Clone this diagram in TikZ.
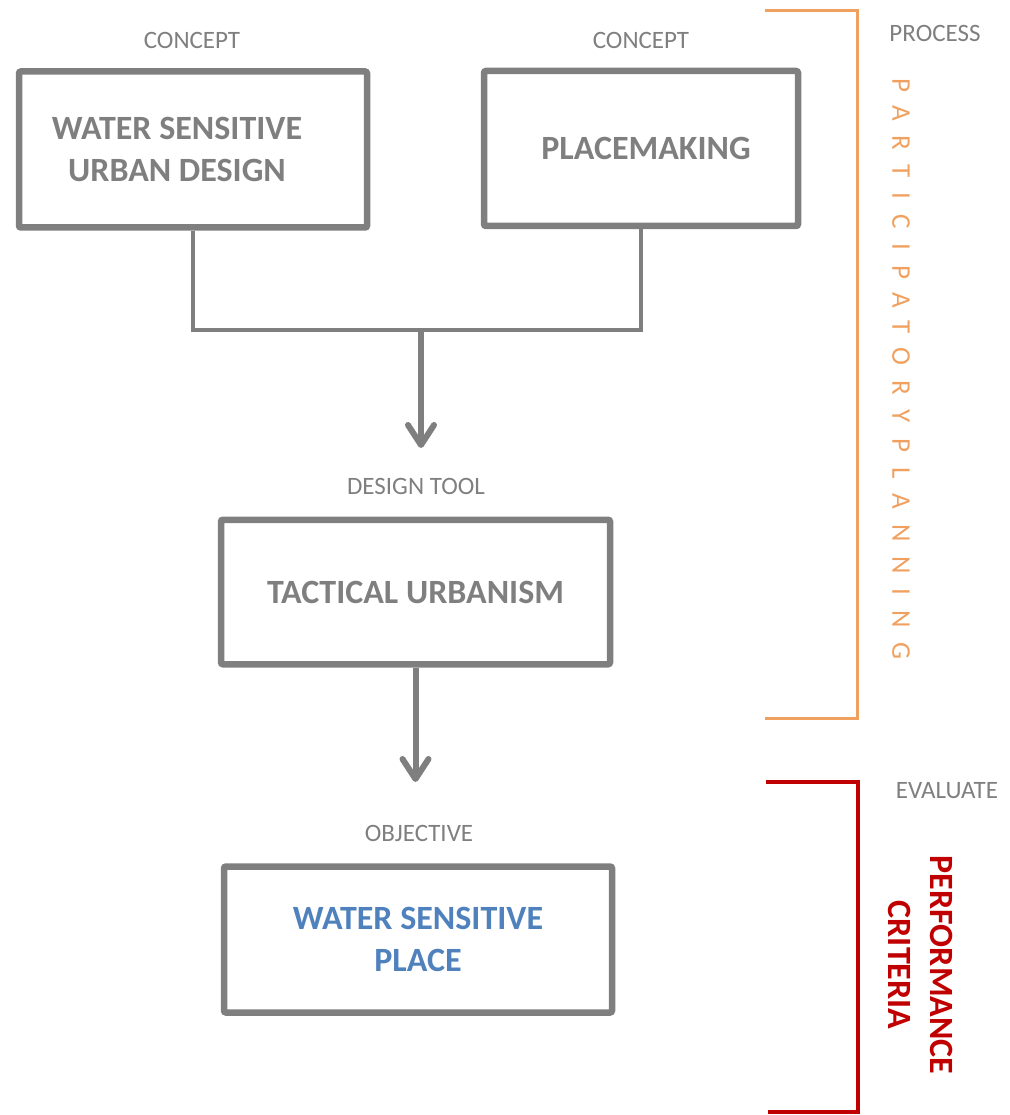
\documentclass[tikz,border=0pt]{standalone}
\usepackage{fontspec}
\setmainfont{Carlito}
\newfontfamily\spacedfont[LetterSpace=55]{Carlito}
\usetikzlibrary{arrows.meta}

\definecolor{boxgray}{HTML}{7F7F7F}
\definecolor{placeblue}{HTML}{4F81BD}
\definecolor{procorange}{HTML}{F0A160}
\definecolor{evalred}{HTML}{C00000}

\begin{document}
\begin{tikzpicture}[x=1pt,y=-1pt,
  conceptbox/.style={draw=boxgray, line width=6.5pt, rounded corners=2pt,
    inner sep=0pt, align=center, text=boxgray,
    font=\fontsize{34}{42}\selectfont\bfseries},
  tag/.style={text=boxgray, inner sep=0pt, font=\fontsize{25}{30}\selectfont},
  link/.style={draw=boxgray, line width=3.5pt},
  flow/.style={draw=boxgray, line width=6pt,
    -{Straight Barb[length=20pt, width=26pt, line cap=round, line join=round]}},
  bracket/.style={line width=3pt}
]
\useasboundingbox (0,0) rectangle (1009,1115);

% concepts
\node[tag] (c1) at (192,40) {CONCEPT};
\node[tag] (c2) at (641,40) {CONCEPT};
\node[conceptbox, minimum width=348pt, minimum height=156pt] (wsud) at (193,149.5)
  {\hspace*{-32pt}WATER SENSITIVE\\\hspace*{-32pt}URBAN DESIGN};
\node[conceptbox, minimum width=314pt, minimum height=155pt] (pm) at (641,148.5)
  {\hspace*{10pt}PLACEMAKING};

% merge of the two concepts
\coordinate (merge) at (421,330);
\coordinate (tip1) at (421,448);
\draw[link] (wsud.south) |- (merge) -| (pm.south);
\draw[flow] (merge) -- (tip1);

% design tool
\node[tag] (dt) at (416,486) {DESIGN TOOL};
\node[conceptbox, minimum width=389pt, minimum height=144.5pt] (tu) at (415.5,592)
  {TACTICAL URBANISM};
\coordinate (tip2) at (415.5,782);
\draw[flow] (tu.south) -- (tip2);

% objective
\node[tag] (obj) at (419,833) {OBJECTIVE};
\node[conceptbox, minimum width=388pt, minimum height=146pt, text=placeblue]
  (wsp) at (418,939.5) {WATER SENSITIVE\\PLACE};

% participatory planning bracket
\coordinate (pa) at (765,11);
\coordinate (pb) at (857,718);
\draw[bracket, procorange] (pa) -| (pb) -- (765,718);
\node[tag] (proc) at (935,33) {PROCESS};
\node[rotate=-90, anchor=west, inner sep=0pt, text=procorange,
  font=\fontsize{27}{30}\spacedfont] (pp) at (901,78)
  {PARTICIPATORY\hspace*{16pt}PLANNING};

% evaluation bracket
\coordinate (ea) at (766,782);
\coordinate (eb) at (858,1112);
\draw[bracket, evalred, line width=3.5pt] (ea) -| (eb) -- (768,1112);
\node[tag] (ev) at (947,791) {EVALUATE};
\node[rotate=-90, inner sep=0pt, align=center, text=evalred,
  font=\fontsize{34}{42}\selectfont\bfseries] (pc) at (921,965)
  {PERFORMANCE\\CRITERIA};
\end{tikzpicture}
\end{document}
